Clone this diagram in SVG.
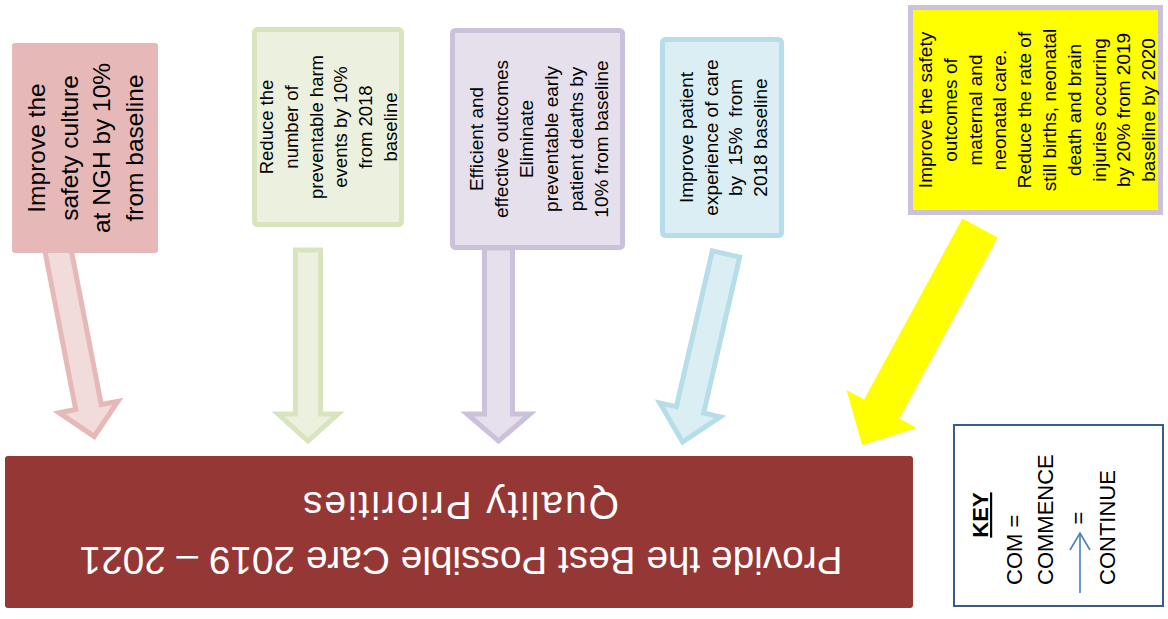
<svg xmlns="http://www.w3.org/2000/svg" width="1168" height="619" viewBox="0 0 1168 619">
<style>
  .t { font-family: "Liberation Sans", Arial, sans-serif; fill: #000; text-anchor: middle; white-space: pre; }
  .k { font-family: "Liberation Sans", Arial, sans-serif; fill: #000; font-size: 22px; white-space: pre; }
  .w { font-family: "Liberation Sans", Arial, sans-serif; fill: #fff; font-size: 39px; text-anchor: middle; }
  .pinkA { fill: #f2dcdb; stroke: #e6b9b8; stroke-width: 5; }
  .greenA { fill: #ebf1de; stroke: #d7e4bd; stroke-width: 5; }
  .purpleA { fill: #e5e0ec; stroke: #ccc1da; stroke-width: 5; }
  .blueA { fill: #dbeef4; stroke: #b7dee8; stroke-width: 5; }
</style>
<rect width="1168" height="619" fill="#fff"/>

<g id="connectors">
  <polygon class="pinkA" transform="translate(57,245) rotate(-11)" points="-13,0 13,0 13,165 30,165 0,195 -30,165 -13,165"/>
  <polygon class="greenA" points="295.5,250 320.5,250 320.5,414 338,414 308,441 278,414 295.5,414"/>
  <polygon class="purpleA" points="484.5,248 512.5,248 512.5,414 530,414 498.5,441 467,414 484.5,414"/>
  <polygon class="blueA" transform="translate(726,254) rotate(13)" points="-14,0 14,0 14,160 31,160 0,193 -31,160 -14,160"/>
  <polygon fill="#ffff00" transform="translate(980,228) rotate(28.5)" points="-20,0 20,0 20,206 40,206 0,247 -40,206 -20,206"/>
</g>

<g id="node-safety-culture">
  <rect x="12" y="43" width="146" height="210" rx="3" fill="#e6b9b8"/>
  <text class="t" font-size="24.5" transform="translate(45,148) rotate(-90)"><tspan x="0" y="0">Improve the</tspan><tspan x="0" dy="32.7">safety culture</tspan><tspan x="0" dy="32.7">at NGH by 10%</tspan><tspan x="0" dy="32.7">from baseline</tspan></text>
</g>

<g id="node-harm-events">
  <rect x="254.5" y="29.5" width="147" height="195" rx="3" fill="#ebf1de" stroke="#d7e4bd" stroke-width="5"/>
  <text class="t" font-size="18.5" transform="translate(273,127) rotate(-90)"><tspan x="0" y="0">Reduce the</tspan><tspan x="0" dy="24.8">number of</tspan><tspan x="0" dy="24.8">preventable harm</tspan><tspan x="0" dy="24.8">events by 10%</tspan><tspan x="0" dy="24.8">from 2018</tspan><tspan x="0" dy="24.8">baseline</tspan></text>
</g>

<g id="node-effective-outcomes">
  <rect x="452.5" y="30.5" width="170" height="217" rx="3" fill="#e5e0ec" stroke="#ccc1da" stroke-width="5"/>
  <text class="t" font-size="19" transform="translate(483,139) rotate(-90)"><tspan x="0" y="0">Efficient and</tspan><tspan x="0" dy="25">effective outcomes</tspan><tspan x="0" dy="25">Eliminate</tspan><tspan x="0" dy="25">preventable early</tspan><tspan x="0" dy="25">patient deaths by</tspan><tspan x="0" dy="25">10% from baseline</tspan></text>
</g>

<g id="node-patient-experience">
  <rect x="662.5" y="39.5" width="119" height="196" rx="3" fill="#dbeef4" stroke="#b7dee8" stroke-width="5"/>
  <text class="t" font-size="19" transform="translate(693,137.5) rotate(-90)"><tspan x="0" y="0">Improve patient</tspan><tspan x="0" dy="24.7">experience of care</tspan><tspan x="0" dy="24.7">by  15%  from</tspan><tspan x="0" dy="24.7">2018 baseline</tspan></text>
</g>

<g id="node-maternity">
  <rect x="910.5" y="7.5" width="250" height="205" fill="#ffff00" stroke="#ccc1da" stroke-width="5"/>
  <text class="t" font-size="19" transform="translate(932,110) rotate(-90)"><tspan x="0" y="0">Improve the safety</tspan><tspan x="0" dy="24.8">outcomes of</tspan><tspan x="0" dy="24.8">maternal and</tspan><tspan x="0" dy="24.8">neonatal care.</tspan><tspan x="0" dy="24.8">Reduce the rate of</tspan><tspan x="0" dy="24.8">still births, neonatal</tspan><tspan x="0" dy="24.8">death and brain</tspan><tspan x="0" dy="24.8">injuries occurring</tspan><tspan x="0" dy="24.8">by 20% from 2019</tspan><tspan x="0" dy="24.8">baseline by 2020</tspan></text>
</g>

<g id="node-quality-priorities">
  <rect x="5" y="456" width="908" height="152" rx="3" fill="#953735"/>
  <text class="w" transform="translate(461,547) rotate(180)" textLength="763" lengthAdjust="spacingAndGlyphs">Provide the Best Possible Care 2019 – 2021</text>
  <text class="w" transform="translate(461,492) rotate(180)" textLength="316" lengthAdjust="spacing">Quality Priorities</text>
</g>

<g id="node-key">
  <rect x="954" y="425" width="209" height="181" fill="#fff" stroke="#385d8a" stroke-width="2"/>
  <text class="k" font-weight="bold" text-decoration="underline" text-anchor="middle" transform="translate(988,515) rotate(-90)">KEY</text>
  <text class="k" transform="translate(1022,585) rotate(-90)">COM =</text>
  <text class="k" transform="translate(1053,585) rotate(-90)">COMMENCE</text>
  <text class="k" text-anchor="middle" transform="translate(1086,518) rotate(-90)">=</text>
  <text class="k" transform="translate(1115,585) rotate(-90)">CONTINUE</text>
  <g stroke="#4a7ebb" stroke-width="1.6" fill="none">
    <line x1="1080" y1="593" x2="1080" y2="533"/>
    <polyline points="1070,550 1080,533 1090,550"/>
  </g>
</g>
</svg>
